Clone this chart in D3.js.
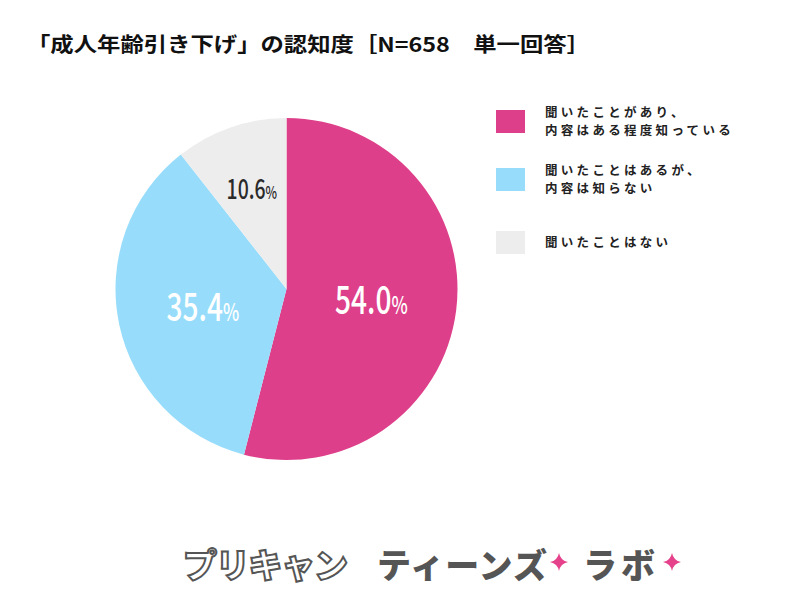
<!DOCTYPE html>
<html>
<head>
<meta charset="utf-8">
<script src="https://cdn.jsdelivr.net/npm/d3@7"></script>
<style>
  body { margin: 0; background: #fff; }
  text { font-family: "Noto Sans CJK JP", "Noto Sans", sans-serif; }
</style>
</head>
<body>
<svg id="chart" width="800" height="600"></svg>
<script>
// data
const categories = ["聞いたことがあり、\n内容はある程度知っている", "聞いたことはあるが、\n内容は知らない", "聞いたことはない"];
const values = [54.0, 35.4, 10.6];
const colors = ["#de3f8a", "#97ddfb", "#eeeded"];
const labelColors = ["#ffffff", "#ffffff", "#2a2a2a"];
const title = "「成人年齢引き下げ」の認知度［N=658　単一回答］";

const svg = d3.select("#chart");
const width = 800, height = 600;

svg.append("rect").attr("width", width).attr("height", height).attr("fill", "#fff");

// title
svg.append("text")
  .attr("x", 27)
  .attr("y", 52)
  .attr("font-size", 20)
  .attr("font-weight", 700)
  .attr("fill", "#111")
  .attr("textLength", 563)
  .attr("lengthAdjust", "spacingAndGlyphs")
  .text(title);

// pie
const cx = 286.5, cy = 289, R = 171;
const g = svg.append("g").attr("transform", `translate(${cx},${cy})`);

const pie = d3.pie().sort(null).value(d => d)(values);
const arc = d3.arc().innerRadius(0).outerRadius(R);

g.selectAll("path.slice")
  .data(pie)
  .enter().append("path")
  .attr("class", "slice")
  .attr("d", arc)
  .attr("fill", (d, i) => colors[i]);

// labels
const labels = g.selectAll("g.lbl")
  .data(pie)
  .enter().append("g")
  .attr("class", "lbl")
  .attr("transform", d => {
    const mid = (d.startAngle + d.endAngle) / 2;
    const r = d.value < 15 ? R * 0.62 : R * 0.5;
    return `translate(${Math.sin(mid) * r},${-Math.cos(mid) * r}) scale(0.72,1)`;
  });

labels.append("text")
  .attr("text-anchor", "middle")
  .attr("dy", "0.36em")
  .attr("font-family", "Roboto, sans-serif")
  .attr("font-weight", 500)
  .attr("fill", (d, i) => labelColors[i])
  .attr("font-size", d => d.value < 15 ? 27 : 39)
  .each(function(d) {
    const t = d3.select(this);
    t.append("tspan").text(d.value.toFixed(1));
    t.append("tspan").attr("font-size", d.value < 15 ? 17 : 24).text("%");
  });

// legend
const legend = svg.append("g").attr("transform", "translate(496,110)");
const legendY = [0, 58, 121];
categories.forEach((c, i) => {
  const row = legend.append("g").attr("transform", `translate(0,${legendY[i]})`);
  row.append("rect")
    .attr("width", 29).attr("height", 23)
    .attr("fill", colors[i]);
  const lines = c.split("\n");
  const y0 = lines.length > 1 ? 7 : 16;
  lines.forEach((ln, j) => {
    row.append("text")
      .attr("x", 49)
      .attr("y", y0 + j * 18)
      .attr("font-size", 12.5)
      .attr("font-weight", 700)
      .attr("letter-spacing", 3.3)
      .attr("fill", "#222")
      .text(ln);
  });
});

// footer logo
const foot = svg.append("g");
foot.append("text")
  .attr("x", 183).attr("y", 578)
  .attr("font-size", 34).attr("font-weight", 900)
  .attr("fill", "#fff").attr("stroke", "#555").attr("stroke-width", 2)
  .attr("textLength", 165).attr("lengthAdjust", "spacing")
  .text("プリキャン");
foot.append("text")
  .attr("x", 377).attr("y", 578)
  .attr("font-size", 34).attr("font-weight", 900)
  .attr("fill", "#555")
  .attr("textLength", 170).attr("lengthAdjust", "spacing")
  .text("ティーンズ");
foot.append("text")
  .attr("x", 583).attr("y", 578)
  .attr("font-size", 34).attr("font-weight", 900)
  .attr("fill", "#555")
  .attr("textLength", 72).attr("lengthAdjust", "spacing")
  .text("ラボ");
[[559, 562], [672, 562]].forEach(p => {
  foot.append("path")
    .attr("transform", `translate(${p[0]},${p[1]})`)
    .attr("d", "M0,-9 Q1.5,-1.5 9,0 Q1.5,1.5 0,9 Q-1.5,1.5 -9,0 Q-1.5,-1.5 0,-9Z")
    .attr("fill", "#e6428c");
});
</script>
</body>
</html>
